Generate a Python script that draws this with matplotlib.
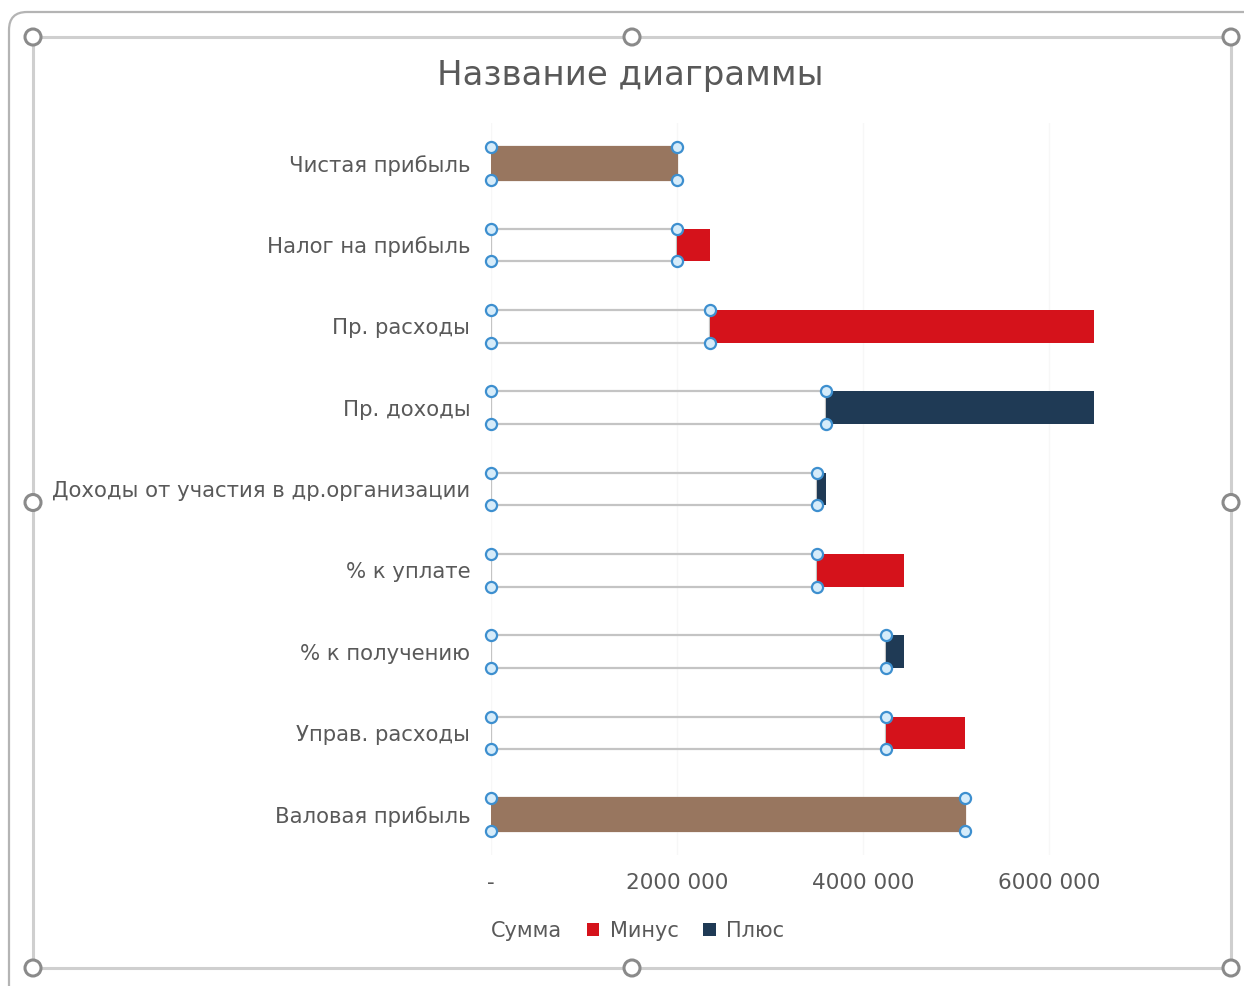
import matplotlib
matplotlib.use("Agg")
import matplotlib.pyplot as plt
from matplotlib.patches import Circle, FancyBboxPatch, Patch
from matplotlib.lines import Line2D
from matplotlib.ticker import FixedLocator

plt.rcParams['font.family'] = ['DejaVu Sans']

# Waterfall of the income statement, bottom category first
categories = ["Валовая прибыль", "Управ. расходы", "% к получению", "% к уплате",
              "Доходы от участия в др.организации", "Пр. доходы", "Пр. расходы",
              "Налог на прибыль", "Чистая прибыль"]
summa = [5100000, 4250000, 4250000, 3500000, 3500000, 3600000, 2350000, 2000000, 2000000]
minus = [0, 850000, 0, 940000, 0, 0, 4130000, 350000, 0]
plus = [0, 0, 190000, 0, 100000, 2880000, 0, 0, 0]
is_total = [True, False, False, False, False, False, False, False, True]
x_ticks = [0, 2000000, 4000000, 6000000]
x_tick_labels = ["-", "2000 000", "4000 000", "6000 000"]
series_names = ["Сумма", "Минус", "Плюс"]

BROWN = "#98765f"
RED = "#d5121b"
NAVY = "#1f3a55"
TEXT = "#595959"

W, H = 1244, 986
fig = plt.figure(figsize=(W / 100, H / 100), dpi=100)
fig.patch.set_facecolor("white")

# Overlay in pixel coordinates for the selected chart frame
ov = fig.add_axes([0, 0, 1, 1], zorder=0)
ov.set_xlim(0, W)
ov.set_ylim(H, 0)
ov.axis("off")
ov.add_patch(FancyBboxPatch((9, 12), 1300, 1100, boxstyle="round,pad=0,rounding_size=18",
                            fill=False, ec="#b4b4b4", lw=1.6))
fx0, fy0, fx1, fy1 = 33, 37, 1231, 968
ov.add_line(Line2D([fx0, fx1, fx1, fx0, fx0], [fy0, fy0, fy1, fy1, fy0], color="#cfcfcf", lw=2.2))
fxm, fym = (fx0 + fx1) / 2, (fy0 + fy1) / 2
for hx, hy in [(fx0, fy0), (fxm, fy0), (fx1, fy0), (fx0, fym), (fx1, fym),
               (fx0, fy1), (fxm, fy1), (fx1, fy1)]:
    ov.add_patch(Circle((hx, hy), 8, fc="white", ec="#8a8a8a", lw=2.2, zorder=3))

# Main plot area
ax = fig.add_axes([491 / W, 1 - 855 / H, 651 / W, 732 / H], zorder=2)
ax.patch.set_alpha(0)
y = list(range(len(categories)))
bh = 0.4

base_fc = [BROWN if t else "none" for t in is_total]
base_ec = [BROWN if t else "#c4c4c4" for t in is_total]
ax.barh(y, summa, height=bh, color=base_fc, edgecolor=base_ec, linewidth=1.6, zorder=2)
ax.barh(y, minus, left=summa, height=bh, color=RED, linewidth=0, zorder=2)
ax.barh(y, plus, left=summa, height=bh, color=NAVY, linewidth=0, zorder=2)

# Selection handles on the corners of the "Сумма" bars
for yi, s in zip(y, summa):
    for xv in (0, s):
        for yv in (yi - bh / 2, yi + bh / 2):
            ax.plot(xv, yv, marker="o", ms=8, mfc="#d6ecfa", mec="#3d8fcf", mew=1.6,
                    zorder=4, clip_on=False)

ax.set_xlim(0, 7000000)
ax.set_ylim(-0.5, len(categories) - 0.5)
ax.xaxis.set_major_locator(FixedLocator(x_ticks))
ax.set_xticklabels(x_tick_labels, fontsize=15.5, color=TEXT)
ax.set_yticks(y)
ax.set_yticklabels(categories, fontsize=15.3, color=TEXT)
ax.tick_params(axis="both", length=0)
ax.tick_params(axis="x", pad=13)
ax.tick_params(axis="y", pad=15)
ax.grid(axis="x", color="#f7f7f7", lw=1)
ax.set_axisbelow(True)
for sp in ax.spines.values():
    sp.set_visible(False)

fig.text(630 / W, 1 - 75 / H, "Название диаграммы", ha="center", va="center",
         fontsize=24.5, color=TEXT)

# Legend: the "Сумма" series has no fill, so its key stays empty
handles = [Patch(facecolor="none", edgecolor="none"),
           Patch(facecolor=RED, edgecolor="none"),
           Patch(facecolor=NAVY, edgecolor="none")]
leg = fig.legend(handles, series_names, loc="center", bbox_to_anchor=(626 / W, 1 - 931 / H),
                 ncol=3, frameon=False, fontsize=15, handlelength=0.6, handleheight=0.6,
                 handletextpad=0.5, columnspacing=1.2, labelcolor=TEXT)

fig.savefig("out.png", dpi=100, facecolor="white")
